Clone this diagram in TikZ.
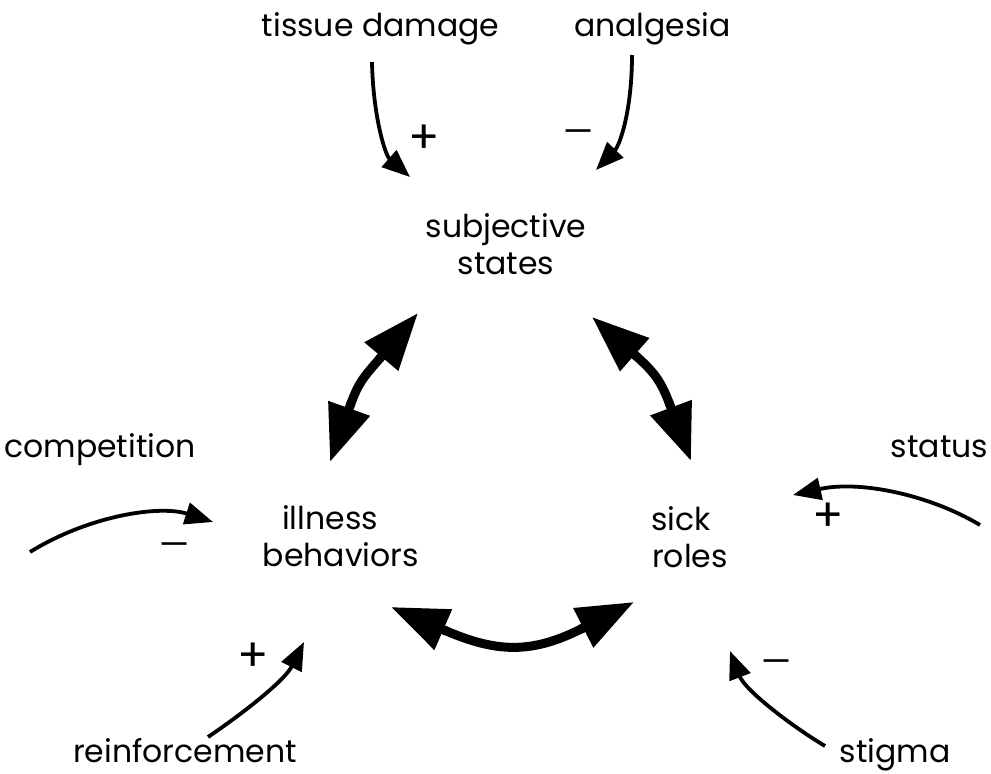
\documentclass[tikz,border=0pt]{standalone}
\usepackage{fontspec}
\setmainfont{Poppins}
\usetikzlibrary{arrows.meta,calc}
\begin{document}
\begin{tikzpicture}[x=1pt,y=-1pt,
  lbl/.style={font=\fontsize{31.5}{36.5}\selectfont, inner sep=0pt, align=center, anchor=base},
  plus/.style={font=\fontsize{46}{46}\selectfont, inner sep=0pt},
  minus/.style={font=\fontsize{34}{34}\selectfont, inner sep=0pt},
  thin arrow/.style={line width=3.8pt, -{Triangle[length=28pt,width=22pt]}},
  shaft/.style={line width=9pt},
  bighead/.style={line width=9pt, -{Triangle[length=57pt,width=42pt]}}
]
\useasboundingbox[fill=white] (0,0) rectangle (991,774);
% labels (base anchor = baseline of the last line)
\node[lbl] (tissue) at (380.5,36) {tissue damage};
\node[lbl] (analg) at (652.5,36) {analgesia};
\node[lbl] (subj) at (506,274) {subjective\\states};
\node[lbl] (comp) at (100,457) {competition};
\node[lbl] (status) at (939.5,457) {status};
\node[lbl] (ill) at (341,566) {illness\hspace*{22pt}\\behaviors};
\node[lbl] (sick) at (690,567) {sick\hspace*{18pt}\\roles};
\node[lbl] (reinf) at (185,762) {reinforcement};
\node[lbl] (stigma) at (895,762) {stigma};
% signs
\node[plus] (s1) at (424,139) {+};
\node[minus] (s2) at (579,137) {—};
\node[minus] (s3) at (175,550) {—};
\node[plus] (s4) at (253,657) {+};
\node[plus] (s5) at (828,517) {+};
\node[minus] (s6) at (777,667) {—};
% coordinates
\coordinate (t0) at (372,62);   \coordinate (t1) at (410,177);
\coordinate (a0) at (632,55);   \coordinate (a1) at (596,170);
\coordinate (c0) at (30,552);   \coordinate (c1) at (213,522);
\coordinate (r0) at (208,737);  \coordinate (r1) at (304,642);
\coordinate (st0) at (980,525); \coordinate (st1) at (793,495);
\coordinate (sg0) at (825,746); \coordinate (sg1) at (730,651);
% big arrows: tips and head bases
\coordinate (L1) at (418,313);  \coordinate (LH1) at (381,357);
\coordinate (L2) at (330,462);  \coordinate (LH2) at (350,406);
\coordinate (R1) at (592,317);  \coordinate (RH1) at (635,355);
\coordinate (R2) at (691,461);  \coordinate (RH2) at (670,405);
\coordinate (B1) at (391,607);  \coordinate (BH1) at (444,630);
\coordinate (B2) at (634,602);  \coordinate (BH2) at (583,628);
% thin arrows
\draw[thin arrow] (t0) .. controls (373,115) and (385,155) .. (t1);
\draw[thin arrow] (a0) .. controls (632,110) and (620,145) .. (a1);
\draw[thin arrow] (c0) .. controls (90,515) and (160,505) .. (c1);
\draw[thin arrow] (r0) .. controls (245,712) and (285,680) .. (r1);
\draw[thin arrow] (st0) .. controls (930,495) and (860,480) .. (st1);
\draw[thin arrow] (sg0) .. controls (790,725) and (745,690) .. (sg1);
% big double arrows
\draw[shaft] (LH1) .. controls (364,377) and (359,381) .. (LH2);
\draw[bighead] ($(LH1)!-3pt!(L1)$) -- (L1);
\draw[bighead] ($(LH2)!-3pt!(L2)$) -- (L2);
\draw[shaft] (RH1) .. controls (654,372) and (660.5,380) .. (RH2);
\draw[bighead] ($(RH1)!-3pt!(R1)$) -- (R1);
\draw[bighead] ($(RH2)!-3pt!(R2)$) -- (R2);
\draw[shaft] (BH1) .. controls (497,653) and (532,654) .. (BH2);
\draw[bighead] ($(BH1)!-3pt!(B1)$) -- (B1);
\draw[bighead] ($(BH2)!-3pt!(B2)$) -- (B2);
\end{tikzpicture}
\end{document}
